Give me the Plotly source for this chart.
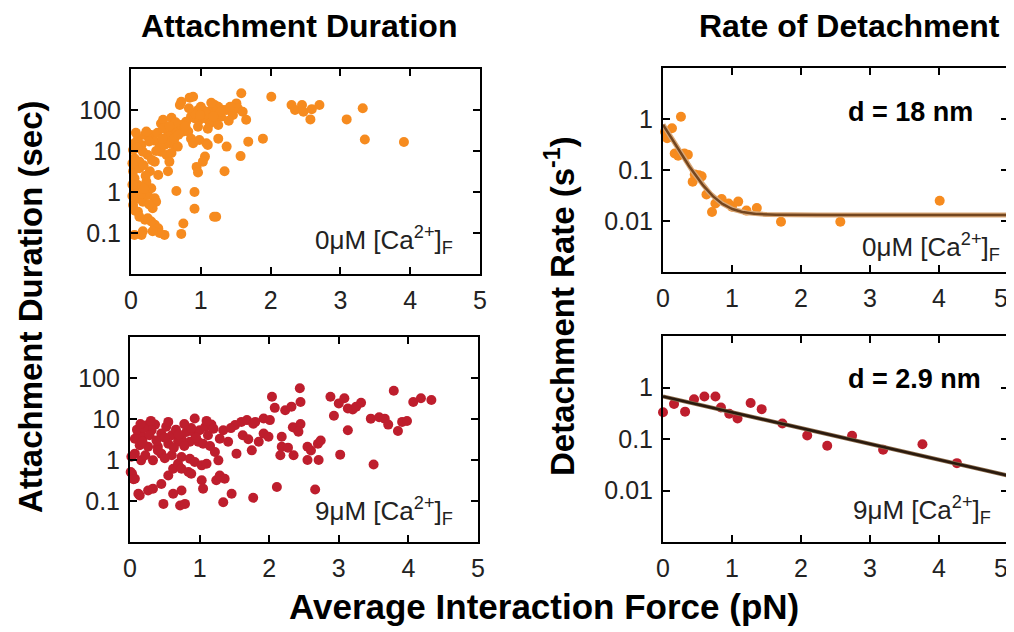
import numpy as np
import plotly.graph_objects as go

# ---------------- data ----------------
# Attachment duration vs force, 0 uM Ca (orange)
dur0_force = [1.58, 2.01, 0.84, 0.89, 0.72, 0.70, 1.20, 1.25, 1.32, 1.37, 1.17, 0.96, 1.03, 1.10,
              1.51, 1.53, 1.60, 1.46, 1.65, 0.86, 0.91, 0.98, 1.06, 1.13, 1.22, 1.29, 1.25, 1.10,
              0.96, 0.79, 0.72, 0.65, 0.60, 0.53, 0.43, 0.46, 0.75, 0.82, 0.86, 0.89, 0.98, 1.08,
              1.10, 1.25, 1.37, 1.68, 1.89, 1.57, 1.34, 1.06, 1.03, 0.94, 0.96, 0.65, 0.91, 0.91,
              1.22, 1.19, 0.75, 0.72, 0.48, 0.17, 0.20, 0.24, 0.29, 0.34, 0.39, 0.41, 0.31, 0.15,
              0.05, 0.05, 0.08, 0.03, 0.05, 0.10, 0.05, 0.08, 0.03, 0.10, 0.17, 0.24, 0.29, 0.34,
              0.36, 0.31, 0.22, 0.27, 0.39, 0.53, 0.34, 0.43, 0.48, 0.55, 0.63, 0.67, 0.51, 0.55,
              0.41, 0.24, 0.15, 0.10, 0.20, 0.29, 0.17, 0.12, 0.03, 0.05, 2.30, 2.35, 2.45, 2.47,
              2.59, 2.70, 2.57, 3.09, 3.32, 3.35, 3.91,
              0.02, 0.02, 0.06, 0.12, 0.14, 0.19, 0.21, 0.26, 0.12, 0.18, 0.30, 0.36, 0.33, 0.38,
              0.45, 0.58, 0.62, 0.68, 0.78, 0.92, 1.00, 1.15, 1.08, 0.99, 1.28, 1.42, 0.83, 0.58,
              0.64, 1.18, 0.07, 0.02, 0.09, 0.26, 0.22, 0.46, 0.55, 1.40]
dur0_sec = [255, 211, 200, 211, 158, 132, 132, 120, 100, 100, 100, 100, 100, 91,
            145, 110, 91, 76, 58, 69, 63, 58, 63, 47, 63, 69, 43, 35,
            39, 52, 43, 35, 30, 24.5, 47, 58, 30, 30, 20, 15.5, 18.6, 15.5,
            14.1, 20, 12.8, 16.9, 20, 7.5, 3.2, 7.3, 5.5, 4.1, 3.0, 1.06, 1.0, 0.39,
            0.25, 0.25, 0.17, 0.095, 0.09, 0.11, 0.21, 0.23, 0.19, 0.16, 0.13, 0.10, 0.11, 0.09,
            0.09, 6.6, 4.6, 3.2, 2.15, 1.48, 1.02, 0.70, 0.48, 0.33, 0.58, 0.85, 1.23, 0.70,
            0.58, 0.40, 1.78, 3.2, 2.6, 3.2, 5.5, 9.6, 14.1, 15.5, 14.1, 12.8, 8.0, 5.5,
            14.1, 8.0, 14.1, 20, 24.5, 24.5, 9.6, 5.5, 10.6, 15.5, 132, 100, 132, 91,
            105, 132, 59, 59, 110, 19, 16.6,
            1.5, 0.8, 0.35, 0.25, 0.9, 1.2, 2.5, 0.5, 3.8, 4.5, 6.0, 10, 18, 28,
            20, 9, 20, 25, 40, 80, 120, 150, 80, 75, 90, 120, 110, 65,
            50, 70, 28, 5, 12, 17, 30, 36, 40, 55]

# Attachment duration vs force, 9 uM Ca (red)
dur9_force = [2.04, 2.08, 2.23, 0.93, 0.24, 0.36, 0.31, 0.12, 0.07, 0.19, 0.45, 0.60, 0.74, 0.81,
              0.93, 1.00, 1.08, 1.17, 1.12, 0.98, 0.86, 0.69, 0.55, 0.40, 0.26, 0.14, 0.07, 0.16,
              0.33, 0.45, 0.60, 0.74, 0.86, 0.93, 1.03, 1.10, 1.22, 1.27, 1.29, 1.34, 1.41, 1.51,
              1.60, 1.68, 1.77, 1.92, 2.01, 1.92, 1.99, 1.53, 1.75, 2.18, 2.16, 2.18, 0.01, 0.07,
              0.14, 0.26, 0.33, 0.45, 0.55, 0.62, 0.69, 0.74, 0.84, 0.88, 1.03, 1.05, 1.24, 1.29,
              1.36, 0.74, 0.62, 0.72, 0.79, 0.48, 1.34, 1.46, 1.77, 2.11,
              2.44, 2.45, 2.32, 2.88, 3.00, 3.08, 2.93, 3.13, 3.20, 3.25, 3.32, 3.79, 4.07, 4.18,
              4.33, 3.46, 3.58, 3.66, 3.71, 3.85, 3.91, 3.98, 3.13, 3.02, 3.50, 2.66, 2.55, 2.60,
              2.70, 2.74, 2.55, 2.71, 2.35, 2.27, 2.34, 2.38, 2.45, 2.42,
              0.02, 0.03, 0.05, 0.12,
              0.10, 0.20, 0.28, 0.38, 0.50, 0.52, 0.66, 0.70, 0.88, 0.95, 1.05, 1.15, 1.20, 0.63,
              0.78, 0.40, 0.22, 0.18, 0.50, 1.45, 1.62, 1.80, 1.85, 1.70, 1.10, 0.78, 0.55, 0.30, 0.15]
dur9_sec = [35, 18.7, 16.4, 10.3, 7.0, 7.3, 5.3, 4.4, 3.3, 3.7, 4.4, 4.0, 3.3, 4.8,
            4.4, 5.3, 6.4, 7.3, 4.0, 2.8, 2.8, 2.8, 2.5, 2.1, 2.1, 2.3, 1.43, 0.98,
            0.98, 1.43, 1.30, 1.18, 1.07, 0.89, 0.74, 0.81, 1.57, 0.98, 3.3, 5.3, 2.8, 7.1,
            8.5, 9.4, 7.7, 10.3, 9.4, 4.4, 3.7, 1.43, 1.72, 3.7, 1.30, 2.1, 0.51, 0.35,
            0.136, 0.18, 0.20, 0.26, 0.42, 0.61, 0.81, 0.61, 0.51, 0.46, 0.32, 0.20, 0.32, 0.42,
            0.35, 0.18, 0.15, 0.078, 0.085, 0.085, 0.093, 0.15, 0.12, 0.22,
            56, 26, 20, 35, 24, 32, 12, 18, 17, 20, 25, 49, 26, 32,
            29, 10.2, 11, 10.2, 7.3, 5.1, 8.5, 8.9, 5.3, 1.35, 0.78, 0.19, 2.1, 1.7,
            2.5, 3.0, 1.0, 1.0, 1.3, 2.0, 6.3, 6.0, 7.5, 4.9,
            1.2, 0.46, 0.34, 0.15,
            5.5, 6.0, 4.0, 3.0, 3.5, 6.5, 5.5, 4.2, 6.0, 3.5, 2.5, 2.2, 5.8, 2.0,
            2.2, 1.7, 1.3, 2.8, 1.1, 6.0, 4.0, 8.5, 2.8, 3.2, 9.0, 7.5, 8.5, 9.0, 7.5]

# Detachment rate vs force, 0 uM Ca
rate0_force = [0.03, 0.06, 0.13, 0.26, 0.17, 0.22, 0.31, 0.36, 0.46, 0.52, 0.56, 0.43, 0.63,
               0.71, 0.76, 0.85, 0.95, 1.00, 1.09, 1.21, 1.36, 1.71, 2.57, 4.01]
rate0_val = [0.56, 0.42, 0.66, 1.11, 0.21, 0.19, 0.21, 0.20, 0.082, 0.079, 0.075, 0.059, 0.033,
             0.015, 0.022, 0.027, 0.022, 0.019, 0.024, 0.016, 0.018, 0.0097, 0.0097, 0.025]

# Detachment rate vs force, 9 uM Ca
rate9_force = [0.00, 0.16, 0.32, 0.45, 0.60, 0.76, 0.84, 0.96, 1.08, 1.27, 1.43, 1.73, 2.09,
               2.38, 2.74, 3.19, 3.76, 4.26]
rate9_val = [0.33, 0.48, 0.34, 0.59, 0.67, 0.67, 0.41, 0.31, 0.25, 0.50, 0.38, 0.20, 0.117,
             0.074, 0.115, 0.062, 0.079, 0.034]

# fit parameters
fit0_k0, fit0_decay, fit0_base = 0.76, 5.2, 0.0131   # d = 18 nm fit
fit9_k0, fit9_d, kT = 0.67, 2.9, 4.1                  # d = 2.9 nm fit

x_ticks = [0, 1, 2, 3, 4, 5]
x_ticktext_left = ["0", "1", "2", "3", "4", "5"]
x_ticktext_right = ["0", "1", "2", "3", "4", "5\u00a0\u00a0"]
dur_ticks = [0.1, 1, 10, 100]
dur_ticktext = ["0.1", "1", "10", "100"]
rate_ticks = [0.01, 0.1, 1]
rate_ticktext = ["0.01", "0.1", "1"]

ORANGE = "#F68B1F"
RED = "#BE1E2D"
FONT = "Liberation Sans, Arial, sans-serif"

fF = np.linspace(0, 5, 300)
fit0 = fit0_k0 * np.exp(-fit0_decay * fF) + fit0_base
fit9 = fit9_k0 * np.exp(-fF * fit9_d / kT)

fig = go.Figure()
mk = dict(size=10, line=dict(width=0))
fig.add_trace(go.Scatter(x=dur0_force, y=dur0_sec, mode="markers", marker=dict(color=ORANGE, **mk),
                         xaxis="x", yaxis="y", showlegend=False, cliponaxis=False))
fig.add_trace(go.Scatter(x=dur9_force, y=dur9_sec, mode="markers", marker=dict(color=RED, **mk),
                         xaxis="x2", yaxis="y2", showlegend=False, cliponaxis=False))
fig.add_trace(go.Scatter(x=rate0_force, y=rate0_val, mode="markers", marker=dict(color=ORANGE, **mk),
                         xaxis="x3", yaxis="y3", showlegend=False, cliponaxis=False))
fig.add_trace(go.Scatter(x=fF, y=fit0, mode="lines", line=dict(color="#D9A878", width=5),
                         xaxis="x3", yaxis="y3", showlegend=False))
fig.add_trace(go.Scatter(x=fF, y=fit0, mode="lines", line=dict(color="#74461F", width=2.5),
                         xaxis="x3", yaxis="y3", showlegend=False))
fig.add_trace(go.Scatter(x=rate9_force, y=rate9_val, mode="markers", marker=dict(color=RED, **mk),
                         xaxis="x4", yaxis="y4", showlegend=False, cliponaxis=False))
fig.add_trace(go.Scatter(x=fF, y=fit9, mode="lines", line=dict(color="#8A6A4A", width=4),
                         xaxis="x4", yaxis="y4", showlegend=False))
fig.add_trace(go.Scatter(x=fF, y=fit9, mode="lines", line=dict(color="#2A1A0E", width=2.5),
                         xaxis="x4", yaxis="y4", showlegend=False))

# the page body has an 8 px margin; lay out in screen pixels and compensate
OFF = 8
W, H = 1014 - OFF, 632 - OFF
def px(v): return (v - OFF) / W
def py(v): return 1 - (v - OFF) / H

common = dict(showline=True, linecolor="black", linewidth=2, mirror="ticks", ticks="inside",
              ticklen=7, tickwidth=2, tickcolor="black", showgrid=False, zeroline=False,
              automargin=False, layer="above traces", ticklabeloverflow="allow",
              tickfont=dict(family=FONT, size=25, color="#222"))
xleft = dict(common, range=[0, 5], tickvals=x_ticks, ticktext=x_ticktext_left, ticklabelstandoff=3)
xright = dict(common, range=[0, 5], tickvals=x_ticks, ticktext=x_ticktext_right, ticklabelstandoff=3)
ycommon = dict(common, type="log", ticklabelstandoff=3)

fig.update_layout(
    width=W, height=H, margin=dict(l=0, r=0, t=0, b=0, pad=0, autoexpand=False),
    paper_bgcolor="white", plot_bgcolor="rgba(0,0,0,0)",
    font=dict(family=FONT, color="black"),
    xaxis=dict(xleft, domain=[px(131), px(480)], anchor="y"),
    yaxis=dict(ycommon, range=[-2, 3], domain=[py(274), py(69)], anchor="x",
               tickvals=dur_ticks, ticktext=dur_ticktext),
    xaxis2=dict(xleft, domain=[px(130), px(478)], anchor="y2"),
    yaxis2=dict(ycommon, range=[-2, 3], domain=[py(542), py(337)], anchor="x2",
                tickvals=dur_ticks, ticktext=dur_ticktext),
    xaxis3=dict(xright, domain=[px(663), px(1008)], anchor="y3"),
    yaxis3=dict(ycommon, range=[-3, 1], domain=[py(272), py(68)], anchor="x3",
                tickvals=rate_ticks, ticktext=rate_ticktext),
    xaxis4=dict(xright, domain=[px(663), px(1008)], anchor="y4"),
    yaxis4=dict(ycommon, range=[-3, 1], domain=[py(542), py(336)], anchor="x4",
                tickvals=rate_ticks, ticktext=rate_ticktext),
)

ann = []
def add(text, x, y, size, bold=False, xa="center", ya="middle", angle=0, color="black"):
    t = f"<b>{text}</b>" if bold else text
    ann.append(dict(text=t, x=px(x), y=py(y), xref="paper", yref="paper", showarrow=False,
                    xanchor=xa, yanchor=ya, textangle=angle,
                    font=dict(family=FONT, size=size, color=color)))

add("Attachment Duration", 299, 26, 32, bold=True)
add("Rate of Detachment", 849, 26, 32, bold=True)
add("Average Interaction Force (pN)", 544, 606, 35, bold=True)
add("Attachment Duration (sec)", 30, 307, 33, bold=True, angle=-90)
add("Detachment Rate (s<sup>-1</sup>)", 560, 306, 33, bold=True, angle=-90)
ca = "μM [Ca<sup>2+</sup>]<sub>F</sub>"
add("0" + ca, 455, 240, 26, xa="right", color="#222")
add("9" + ca, 455, 511, 26, xa="right", color="#222")
add("0" + ca, 1002, 247, 26, xa="right", color="#222")
add("9" + ca, 993, 510, 26, xa="right", color="#222")
add("d = 18 nm", 975, 112, 27, bold=True, xa="right")
add("d = 2.9 nm", 983, 379, 27, bold=True, xa="right")
fig.update_layout(annotations=ann)

fig.write_html("out.html")
